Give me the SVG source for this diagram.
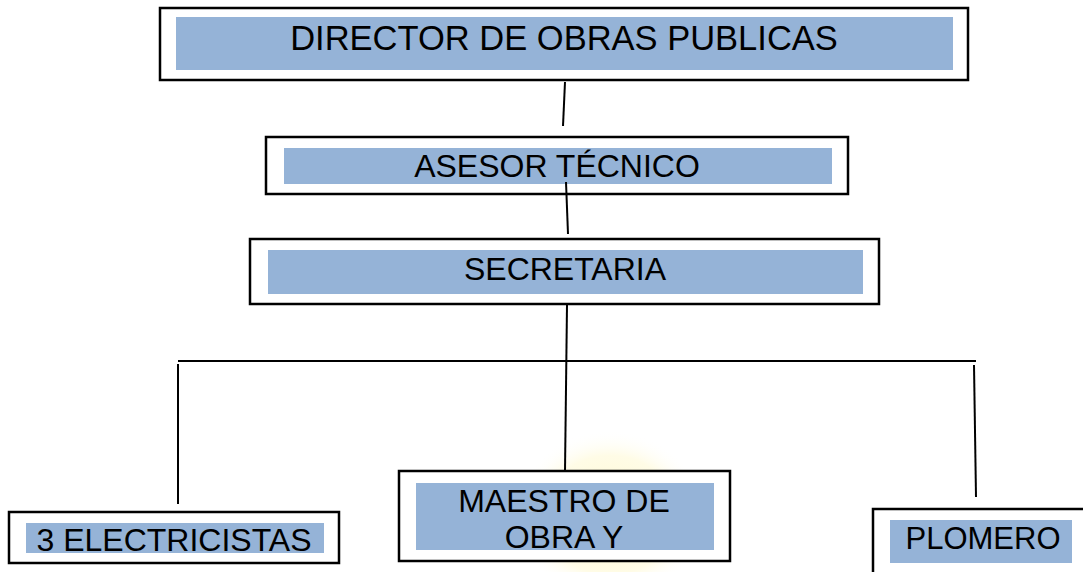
<svg xmlns="http://www.w3.org/2000/svg" width="1083" height="572" viewBox="0 0 1083 572">
  <style>
    .outer { fill: #ffffff; stroke: #000000; stroke-width: 2.5; }
    .inner { fill: #95B3D7; stroke: none; }
    .lbl { font-family: "Liberation Sans", Arial, sans-serif; font-size: 32px; fill: #000000; text-anchor: middle; }
    .conn line { stroke: #000000; stroke-width: 2; }
  </style>
  <defs>
    <radialGradient id="glow" cx="50%" cy="50%" r="50%">
      <stop offset="0%" stop-color="#FFF3A0" stop-opacity="0.55"/>
      <stop offset="70%" stop-color="#FFF6B8" stop-opacity="0.35"/>
      <stop offset="100%" stop-color="#FFFFFF" stop-opacity="0"/>
    </radialGradient>
  </defs>
  <rect width="1083" height="572" fill="#ffffff"/>
  <ellipse cx="610" cy="515" rx="95" ry="85" fill="url(#glow)"/>

  <g id="director">
    <rect class="outer" x="160" y="8" width="808" height="72"/>
    <rect class="inner" x="176" y="17" width="777" height="53"/>
    <text class="lbl" x="564" y="49.5" style="font-size:34.5px">DIRECTOR DE OBRAS PUBLICAS</text>
  </g>
  <g id="asesor">
    <rect class="outer" x="266" y="137" width="582" height="57"/>
    <rect class="inner" x="284" y="148" width="548" height="36"/>
    <text class="lbl" x="557" y="177">ASESOR TÉCNICO</text>
  </g>
  <g id="secretaria">
    <rect class="outer" x="250" y="239" width="629" height="65"/>
    <rect class="inner" x="268" y="250" width="595" height="44"/>
    <text class="lbl" x="565" y="280">SECRETARIA</text>
  </g>
  <g id="electricistas">
    <rect class="outer" x="9" y="512" width="330" height="51"/>
    <rect class="inner" x="26" y="523" width="298" height="30"/>
    <text class="lbl" x="174" y="551">3 ELECTRICISTAS</text>
  </g>
  <g id="maestro">
    <rect class="outer" x="399" y="471" width="331" height="90"/>
    <rect class="inner" x="416" y="483" width="298" height="67"/>
    <text class="lbl" x="564" y="512">MAESTRO DE</text>
    <text class="lbl" x="564" y="548">OBRA Y</text>
  </g>
  <g id="plomero">
    <rect class="outer" x="873" y="509" width="230" height="80"/>
    <rect class="inner" x="890" y="520" width="182" height="43"/>
    <text class="lbl" x="983" y="549" style="font-size:31px">PLOMERO</text>
  </g>

  <g id="connectors" class="conn">
    <line x1="565" y1="82" x2="563" y2="126"/>
    <line x1="566" y1="182" x2="568" y2="234"/>
    <line x1="567" y1="305" x2="565" y2="471"/>
    <line x1="178" y1="361" x2="976" y2="361"/>
    <line x1="178" y1="364" x2="178" y2="504"/>
    <line x1="974" y1="365" x2="976" y2="497"/>
  </g>
</svg>
